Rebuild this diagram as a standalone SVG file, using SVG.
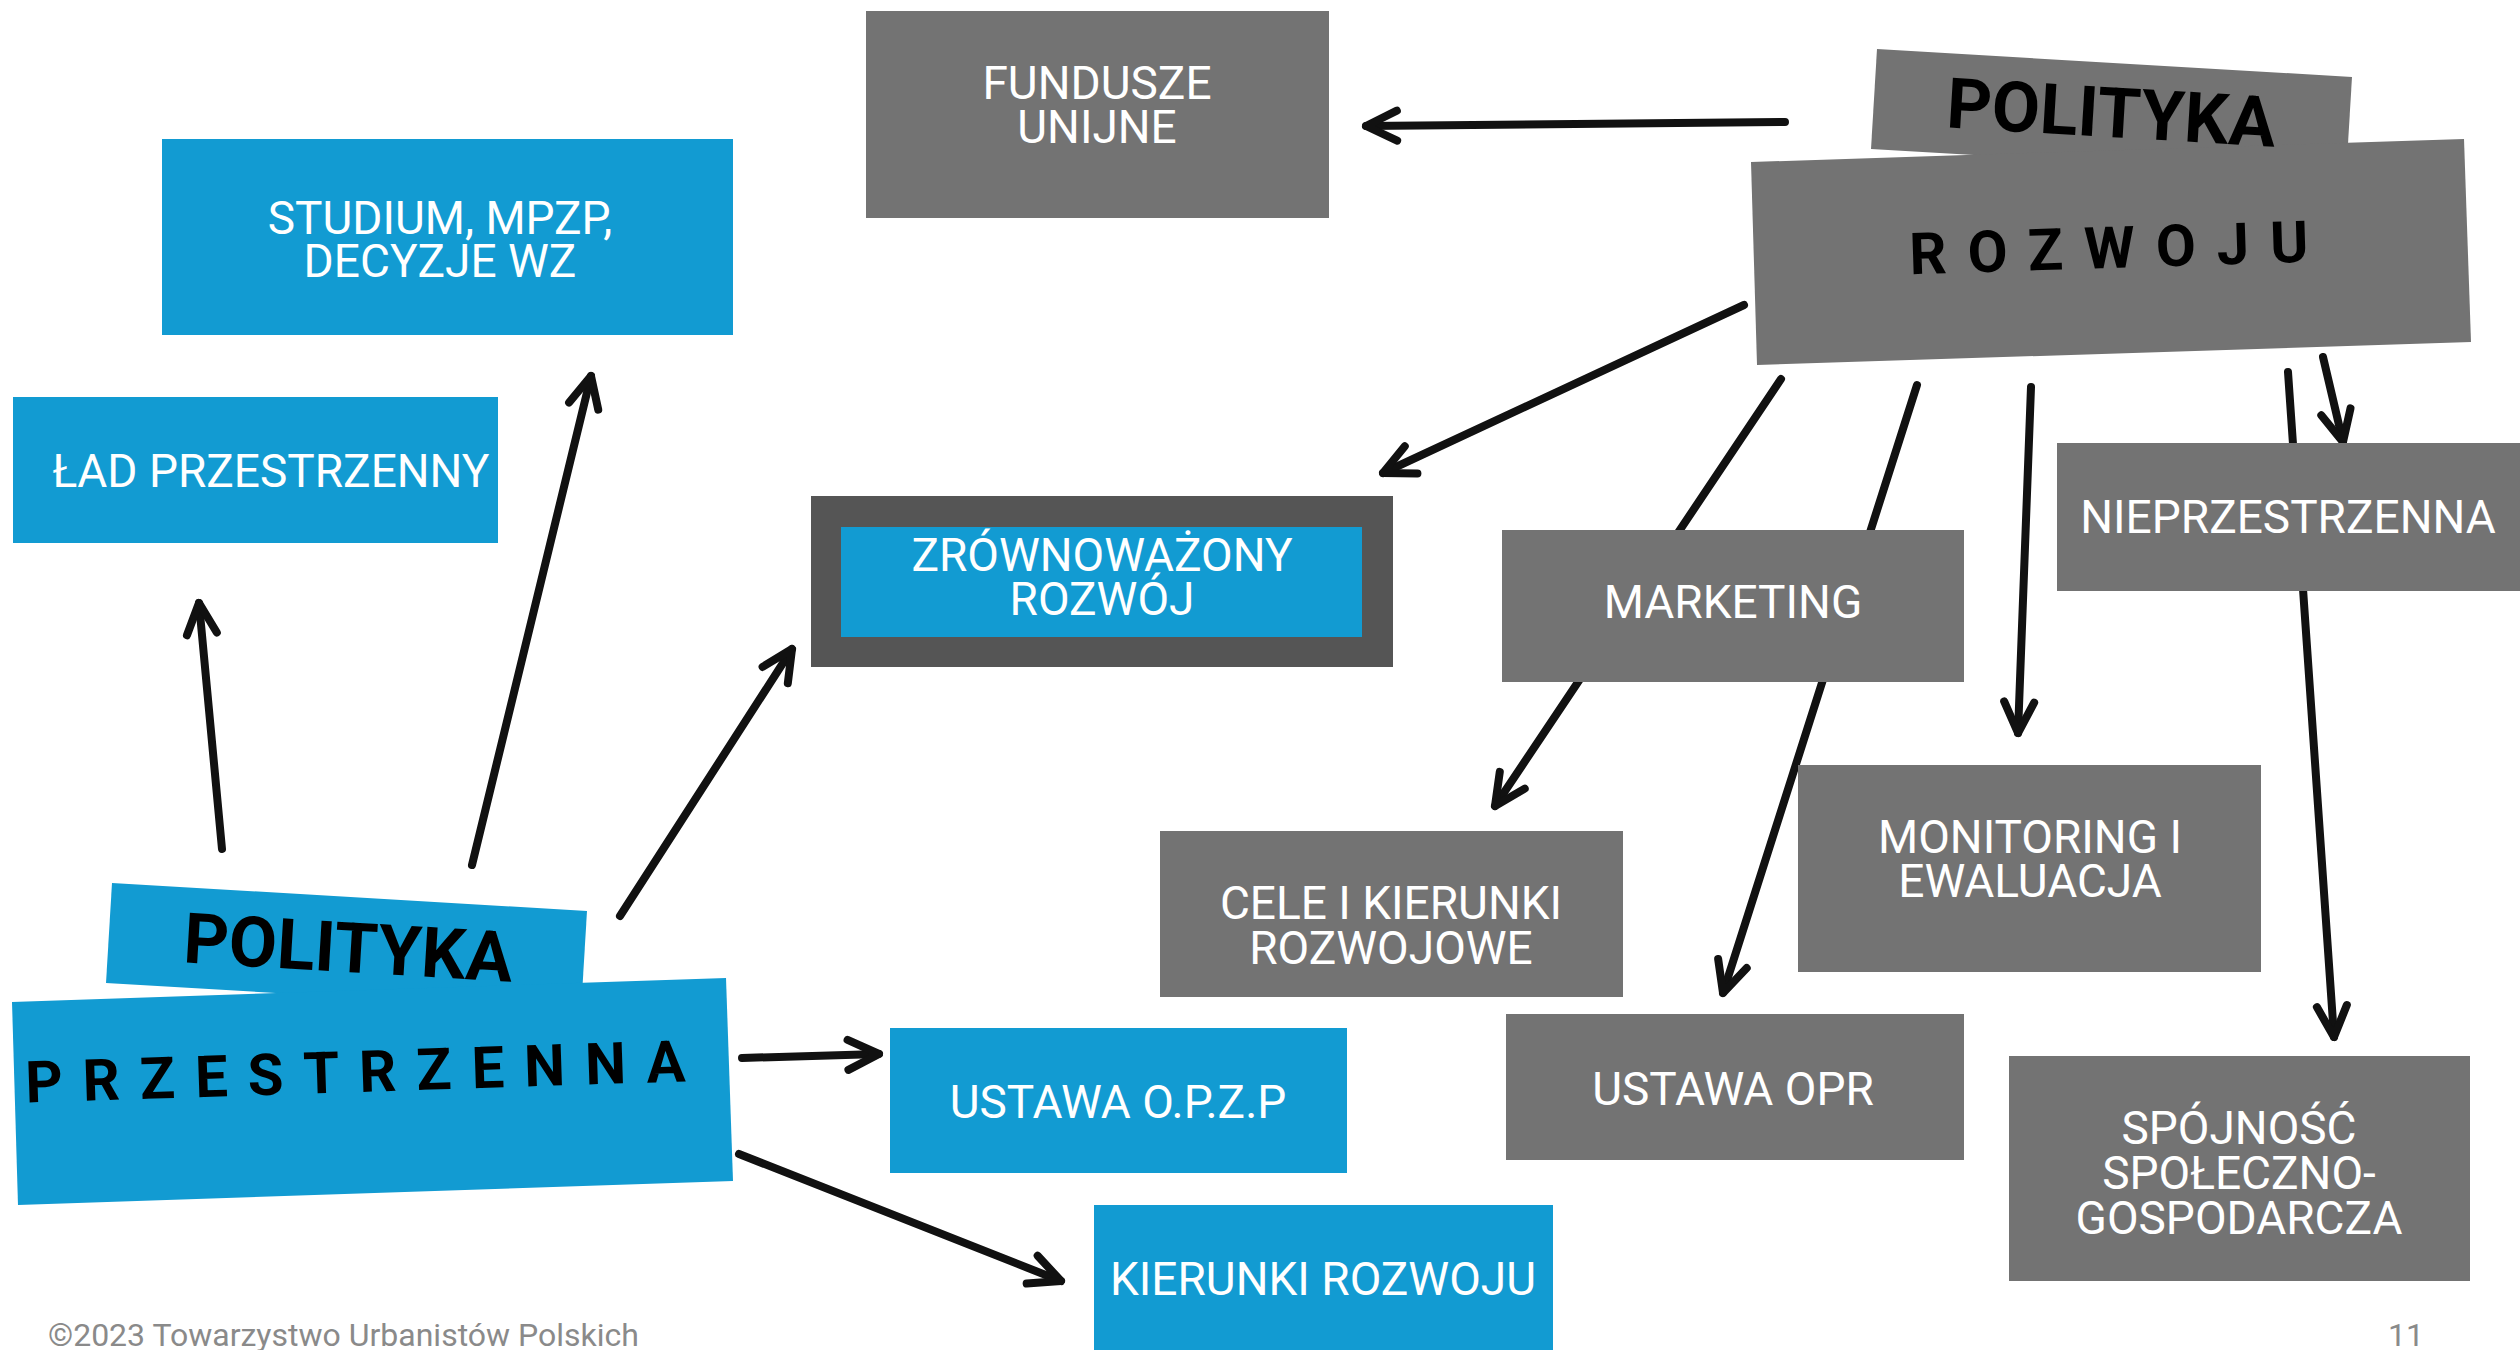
<svg xmlns="http://www.w3.org/2000/svg" width="2520" height="1350" viewBox="0 0 2520 1350">
<style>
.blue{fill:#129bd2}
.gray{fill:#737373}
.dark{fill:#555555}
.lbl{font-family:Roboto,"Liberation Sans",sans-serif;font-size:46px;fill:#ffffff;text-anchor:middle}
.big{font-family:Roboto,"Liberation Sans",sans-serif;font-weight:bold;font-size:70px;fill:#000000;text-anchor:middle}
.spaced{font-family:Roboto,"Liberation Sans",sans-serif;font-weight:bold;font-size:58px;fill:#000000;text-anchor:middle;letter-spacing:21px}
.foot{font-family:Roboto,"Liberation Sans",sans-serif;font-size:32px;fill:#8a8a8a}
.con{fill:none;stroke:#111111;stroke-width:8;stroke-linecap:round;marker-end:url(#arr)}
</style>
<defs>
<marker id="arr" markerUnits="userSpaceOnUse" viewBox="-40 -25 48 50" refX="0" refY="0" markerWidth="48" markerHeight="50" orient="auto">
<path d="M-31,-15 L0,0 L-31,15" fill="none" stroke="#111111" stroke-width="8" stroke-linecap="round" stroke-linejoin="round"/>
</marker>
</defs>
<rect width="2520" height="1350" fill="#ffffff"/>
<g id="connectors">
<line class="con" x1="1785" y1="122" x2="1366" y2="126"/>
<line class="con" x1="1744" y1="305" x2="1383" y2="473"/>
<line class="con" x1="1781" y1="379" x2="1495" y2="806"/>
<line class="con" x1="1917" y1="385" x2="1723" y2="993"/>
<line class="con" x1="2031" y1="387" x2="2018" y2="733"/>
<line class="con" x1="2323" y1="357" x2="2343" y2="442"/>
<line class="con" x1="2288" y1="372" x2="2334" y2="1037"/>
<line class="con" x1="222" y1="849" x2="199" y2="603"/>
<line class="con" x1="472" y1="865" x2="591" y2="376"/>
<line class="con" x1="620" y1="916" x2="792" y2="649"/>
<line class="con" x1="742" y1="1058" x2="879" y2="1054"/>
<line class="con" x1="739" y1="1154" x2="1061" y2="1281"/>
</g>
<g id="fundusze">
<rect class="gray" x="866" y="11" width="463" height="207"/>
<text class="lbl" x="1097" y="99">FUNDUSZE</text>
<text class="lbl" x="1097" y="143">UNIJNE</text>
</g>
<g id="polityka-rozwoju">
<polygon class="gray" points="1877,49 2352,77 2346,177 1871,149"/>
<polygon class="gray" points="1751,162 2464,139 2471,342 1757,365"/>
<text class="big" x="2110" y="137" transform="rotate(3.4 2110 137)">POLITYKA</text>
<text class="spaced" x="2120" y="268" transform="rotate(-1.8 2110 268)">ROZWOJU</text>
</g>
<g id="studium">
<rect class="blue" x="162" y="139" width="571" height="196"/>
<text class="lbl" x="440" y="234">STUDIUM, MPZP,</text>
<text class="lbl" x="440" y="277">DECYZJE WZ</text>
</g>
<g id="lad">
<rect class="blue" x="13" y="397" width="485" height="146"/>
<text class="lbl" x="271" y="487">ŁAD PRZESTRZENNY</text>
</g>
<g id="zrownowazony">
<rect class="dark" x="811" y="496" width="582" height="171"/>
<rect class="blue" x="841" y="527" width="521" height="110"/>
<text class="lbl" x="1102" y="571">ZRÓWNOWAŻONY</text>
<text class="lbl" x="1102" y="615">ROZWÓJ</text>
</g>
<g id="marketing">
<rect class="gray" x="1502" y="530" width="462" height="152"/>
<text class="lbl" x="1733" y="618">MARKETING</text>
</g>
<g id="nieprzestrzenna">
<rect class="gray" x="2057" y="443" width="463" height="148"/>
<text class="lbl" x="2288" y="533">NIEPRZESTRZENNA</text>
</g>
<g id="monitoring">
<rect class="gray" x="1798" y="765" width="463" height="207"/>
<text class="lbl" x="2030" y="853">MONITORING I</text>
<text class="lbl" x="2030" y="897">EWALUACJA</text>
</g>
<g id="cele">
<rect class="gray" x="1160" y="831" width="463" height="166"/>
<text class="lbl" x="1391" y="919">CELE I KIERUNKI</text>
<text class="lbl" x="1391" y="964">ROZWOJOWE</text>
</g>
<g id="ustawa-opr">
<rect class="gray" x="1506" y="1014" width="458" height="146"/>
<text class="lbl" x="1733" y="1105">USTAWA OPR</text>
</g>
<g id="spojnosc">
<rect class="gray" x="2009" y="1056" width="461" height="225"/>
<text class="lbl" x="2239" y="1144">SPÓJNOŚĆ</text>
<text class="lbl" x="2239" y="1189">SPOŁECZNO-</text>
<text class="lbl" x="2239" y="1234">GOSPODARCZA</text>
</g>
<g id="polityka-przestrzenna">
<polygon class="blue" points="112,883 587,911 581,1011 106,983"/>
<polygon class="blue" points="12,1002 726,978 733,1181 18,1205"/>
<text class="big" x="347" y="972" transform="rotate(3.4 347 972)">POLITYKA</text>
<text class="spaced" x="366" y="1092" transform="rotate(-1.84 356 1092)" style="letter-spacing:20px">PRZESTRZENNA</text>
</g>
<g id="ustawa-opzp">
<rect class="blue" x="890" y="1028" width="457" height="145"/>
<text class="lbl" x="1118" y="1118">USTAWA O.P.Z.P</text>
</g>
<g id="kierunki">
<rect class="blue" x="1094" y="1205" width="459" height="145"/>
<text class="lbl" x="1323" y="1295">KIERUNKI ROZWOJU</text>
</g>
<g id="footer">
<text class="foot" x="48" y="1346">©2023 Towarzystwo Urbanistów Polskich</text>
<text class="foot" x="2424" y="1346" text-anchor="end">11</text>
</g>
</svg>
